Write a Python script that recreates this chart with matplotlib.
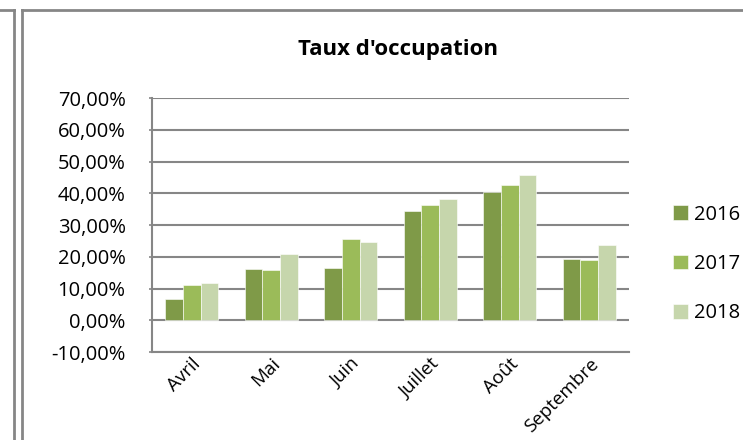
import matplotlib
matplotlib.use("Agg")
import matplotlib.pyplot as plt
from matplotlib.lines import Line2D
import numpy as np

months = ["Avril", "Mai", "Juin", "Juillet", "Août", "Septembre"]
years = ["2016", "2017", "2018"]
v2016 = [6.7, 16.2, 16.4, 34.4, 40.5, 19.4]
v2017 = [11.2, 15.7, 25.6, 36.3, 42.5, 19.0]
v2018 = [11.7, 20.8, 24.6, 38.2, 45.9, 23.7]
colors = ["#7f9a48", "#9bbb59", "#c6d6ac"]
yticks = [-10, 0, 10, 20, 30, 40, 50, 60, 70]
ytick_labels = ["-10,00%", "0,00%", "10,00%", "20,00%", "30,00%", "40,00%", "50,00%", "60,00%", "70,00%"]

plt.rcParams['font.family'] = ['Open Sans', 'DejaVu Sans']

W, H = 743, 440
fig = plt.figure(figsize=(W / 100, H / 100), dpi=100)
ax = fig.add_axes([152 / W, 1 - 352 / H, (629 - 152) / W, (352 - 98) / H])

x = np.arange(len(months))
bw = 0.222
for i, (vals, c, lab) in enumerate(zip([v2016, v2017, v2018], colors, years)):
    ax.bar(x + (i - 1) * bw, vals, width=bw, color=c, label=lab, zorder=3,
           edgecolor="white", linewidth=0.4)

ax.set_xlim(-0.5, len(months) - 0.5)
ax.set_ylim(-10, 70)
ax.set_yticks(yticks)
ax.set_yticklabels(ytick_labels, fontsize=14.5)
ax.yaxis.grid(True, color="#868686", linewidth=1.5, zorder=0)
ax.tick_params(axis="y", length=2, color="#868686", width=1.2, pad=17)
ax.set_xticks(x)
ax.set_xticklabels(months, rotation=45, ha="right", rotation_mode="anchor", fontsize=13.5)
ax.tick_params(axis="x", length=0, pad=2)
for s in ["top", "right"]:
    ax.spines[s].set_visible(False)
ax.spines["left"].set_color("#868686")
ax.spines["left"].set_linewidth(1.5)
ax.spines["bottom"].set_color("#868686")
ax.spines["bottom"].set_linewidth(1.5)

fig.text(398 / W, 1 - 50 / H, "Taux d'occupation", ha="center", va="center",
         fontsize=16, fontweight="bold")

leg = fig.legend(loc="center left", bbox_to_anchor=(663 / W, 1 - 264 / H), frameon=False,
                 fontsize=14.5, handlelength=0.75, handleheight=0.75, handletextpad=0.3,
                 labelspacing=1.45, borderpad=0)

gray = "#868686"
fig.add_artist(Line2D([0, 14 / W], [1 - 10 / H, 1 - 10 / H], color=gray, lw=2, transform=fig.transFigure))
fig.add_artist(Line2D([14 / W, 14 / W], [1 - 10 / H, 0], color=gray, lw=2, transform=fig.transFigure))
fig.add_artist(Line2D([22 / W, 1], [1 - 10 / H, 1 - 10 / H], color=gray, lw=2, transform=fig.transFigure))
fig.add_artist(Line2D([22 / W, 22 / W], [1 - 10 / H, 0], color=gray, lw=2, transform=fig.transFigure))

fig.savefig("out.png", dpi=100)
